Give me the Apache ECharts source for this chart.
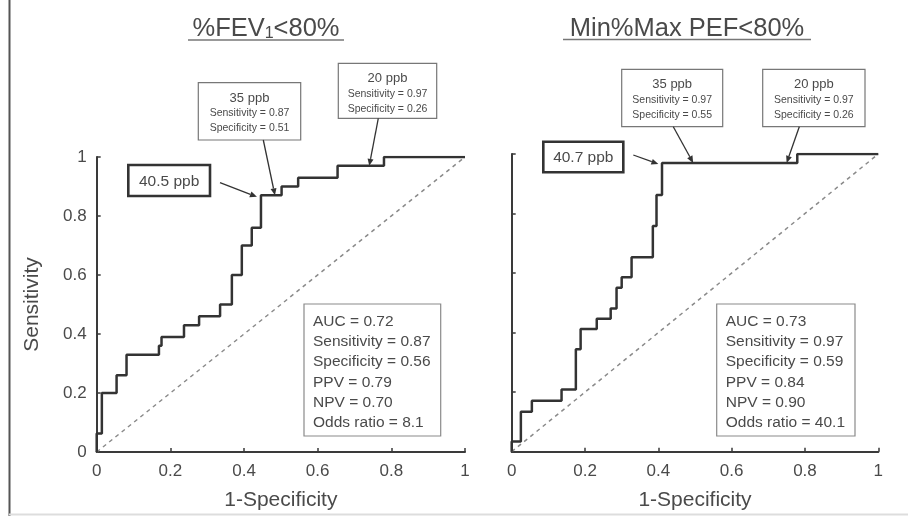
<!DOCTYPE html>
<html><head><meta charset="utf-8">
<script src="https://cdn.jsdelivr.net/npm/echarts@6/dist/echarts.min.js"></script>
<style>html,body{margin:0;padding:0;background:#fff}#c{width:908px;height:516px}</style>
</head><body><div id="c"></div>
<script>
// ---------- data ----------
const xTicks = [0, 0.2, 0.4, 0.6, 0.8, 1];
const yTicks = [0, 0.2, 0.4, 0.6, 0.8, 1];
const xAxisTitle = '1-Specificity';
const yAxisTitle = 'Sensitivity';
const diagonal = [[0, 0], [1, 1]];

// ROC corner points (1-specificity, sensitivity), steps drawn horizontally then vertically
const fev1Roc = [[0,0],[0,0.063],[0.014,0.2],[0.054,0.26],[0.081,0.33],[0.169,0.36],[0.176,0.39],
  [0.237,0.43],[0.278,0.46],[0.335,0.5],[0.367,0.6],[0.394,0.7],[0.421,0.76],[0.446,0.87],
  [0.502,0.9],[0.547,0.93],[0.654,0.97],[0.78,1],[1,1]];
const pefRoc = [[0,0],[0,0.034],[0.025,0.134],[0.055,0.171],[0.136,0.209],[0.175,0.344],[0.188,0.412],
  [0.232,0.447],[0.27,0.481],[0.286,0.551],[0.3,0.586],[0.327,0.653],[0.385,0.758],[0.395,0.862],
  [0.41,0.97],[0.779,1],[1,1]];

const statNames = ['AUC', 'Sensitivity', 'Specificity', 'PPV', 'NPV', 'Odds ratio'];
const fev1StatValues = ['0.72', '0.87', '0.56', '0.79', '0.70', '8.1'];
const pefStatValues = ['0.73', '0.97', '0.59', '0.84', '0.90', '40.1'];

const fev1Cutoffs = ['40.5 ppb', '35 ppb', '20 ppb'];
const fev1CutSens = [null, 0.87, 0.97];
const fev1CutSpec = [null, 0.51, 0.26];
const fev1CutPoints = [[0.435, 0.865], [0.484, 0.87], [0.74, 0.97]];

const pefCutoffs = ['40.7 ppb', '35 ppb', '20 ppb'];
const pefCutSens = [null, 0.97, 0.97];
const pefCutSpec = [null, 0.55, 0.26];
const pefCutPoints = [[0.4, 0.966], [0.495, 0.97], [0.75, 0.97]];

// ---------- style / layout ----------
const FONT = '"Liberation Sans", Arial, sans-serif';
const TXT = '#4a4a4a';
const AX = '#3a3a3a';

const chart = echarts.init(document.getElementById('c'), null, {renderer: 'canvas'});

function xAxis(gi) {
  return {
    type: 'value', gridIndex: gi, min: 0, max: 1, interval: 0.2,
    axisLine: {show: true, onZero: false, lineStyle: {color: AX, width: 2}},
    axisTick: {show: true, inside: true, length: 4, customValues: xTicks, lineStyle: {color: AX, width: 1.5}},
    axisLabel: {show: true, margin: 11, fontSize: 17, color: TXT, fontFamily: FONT, customValues: xTicks,
      formatter: v => String(+(+v).toFixed(2))},
    splitLine: {show: false},
    name: xAxisTitle, nameLocation: 'middle', nameGap: 38,
    nameTextStyle: {fontSize: 21, color: TXT, fontFamily: FONT}
  };
}
function yAxis(gi, withLabels) {
  return {
    type: 'value', gridIndex: gi, min: 0, max: 1, interval: 0.2,
    axisLine: {show: true, onZero: false, lineStyle: {color: AX, width: 2}},
    axisTick: {show: true, inside: true, length: 4, customValues: yTicks, lineStyle: {color: AX, width: 1.5}},
    axisLabel: {show: withLabels, margin: 10, fontSize: 17, color: TXT, fontFamily: FONT, customValues: yTicks,
      formatter: v => String(+(+v).toFixed(2))},
    splitLine: {show: false},
    name: withLabels ? yAxisTitle : '', nameLocation: 'middle', nameGap: 54,
    nameTextStyle: {fontSize: 21, color: TXT, fontFamily: FONT}
  };
}
function rocSeries(gi, data) {
  return {type: 'line', xAxisIndex: gi, yAxisIndex: gi, data: data, step: 'end', showSymbol: false,
    silent: true, animation: false, lineStyle: {color: '#333', width: 2.5}, z: 3};
}
function diagSeries(gi) {
  return {type: 'line', xAxisIndex: gi, yAxisIndex: gi, data: diagonal, showSymbol: false,
    silent: true, animation: false, lineStyle: {color: '#8a8a8a', width: 1.5, type: [4, 4]}, z: 2};
}

chart.setOption({
  animation: false,
  backgroundColor: '#fff',
  grid: [
    {left: 96.7, top: 157, width: 368.3, height: 295},
    {left: 511.7, top: 154, width: 366.6, height: 297.7}
  ],
  xAxis: [xAxis(0), xAxis(1)],
  yAxis: [yAxis(0, true), yAxis(1, false)],
  series: [diagSeries(0), rocSeries(0, fev1Roc), diagSeries(1), rocSeries(1, pefRoc)]
});

// ---------- annotations ----------
const els = [];
function text(x, y, str, size, align, extra) {
  els.push({type: 'text', silent: true, z: 10, style: Object.assign({
    x: x, y: y, text: str, font: size + 'px ' + FONT, fill: TXT,
    textAlign: align || 'center', textVerticalAlign: 'middle'}, extra || {})});
}
function rect(x, y, w, h, stroke, lw) {
  els.push({type: 'rect', silent: true, z: 9, shape: {x: x, y: y, width: w, height: h},
    style: {fill: '#fff', stroke: stroke, lineWidth: lw}});
}
function arrow(from, to) {
  const dx = to[0] - from[0], dy = to[1] - from[1];
  const L = Math.sqrt(dx * dx + dy * dy), ux = dx / L, uy = dy / L;
  const hl = 7, hw = 3;
  const bx = to[0] - ux * hl, by = to[1] - uy * hl;
  els.push({type: 'line', silent: true, z: 9, shape: {x1: from[0], y1: from[1], x2: bx, y2: by},
    style: {stroke: '#333', lineWidth: 1.3}});
  els.push({type: 'polygon', silent: true, z: 9, shape: {points: [
    [to[0], to[1]], [bx - uy * hw, by + ux * hw], [bx + uy * hw, by - ux * hw]]},
    style: {fill: '#333'}});
}

function panel(gi, cfg, cutoffs, sens, spec, pts, statValues) {
  const px = pts.map(p => chart.convertToPixel({gridIndex: gi}, p));
  // main cutoff (thick box)
  const b0 = cfg.box0;
  rect(b0[0], b0[1], b0[2], b0[3], '#333', 2.6);
  text(b0[0] + b0[2] / 2, b0[1] + b0[3] / 2 + 1, cutoffs[0], 15.5);
  arrow(cfg.arrow0, px[0]);
  // other cutoffs
  [1, 2].forEach(i => {
    const b = cfg['box' + i];
    rect(b[0], b[1], b[2], b[3], '#777', 1.2);
    const cx = b[0] + b[2] / 2;
    text(cx, b[1] + 15.5, cutoffs[i], 13);
    text(cx, b[1] + 30.5, 'Sensitivity = ' + sens[i].toFixed(2), 10.5);
    text(cx, b[1] + 45.5, 'Specificity = ' + spec[i].toFixed(2), 10.5);
    arrow(cfg['arrow' + i], px[i]);
  });
  // stats box
  const s = cfg.stats;
  rect(s[0], s[1], s[2], s[3], '#8a8a8a', 1.2);
  statNames.forEach((n, i) => text(s[0] + 9, s[1] + 17.5 + i * 20.3, n + ' = ' + statValues[i], 15.5, 'left'));
}

panel(0, {
  box0: [128.3, 165, 81.7, 31], arrow0: [220, 182.7],
  box1: [198.3, 82.7, 102.4, 57.3], arrow1: [263.3, 140],
  box2: [338.3, 63.3, 98.4, 55], arrow2: [378.3, 118.3],
  stats: [304, 304, 136.7, 132]
}, fev1Cutoffs, fev1CutSens, fev1CutSpec, fev1CutPoints, fev1StatValues);

panel(1, {
  box0: [543.3, 141.7, 80, 30.6], arrow0: [633.3, 155],
  box1: [621.7, 69.3, 101, 57.4], arrow1: [673.3, 126.7],
  box2: [762.7, 69.3, 102.3, 57.4], arrow2: [799.3, 126.7],
  stats: [716.7, 304, 138.3, 132]
}, pefCutoffs, pefCutSens, pefCutSpec, pefCutPoints, pefStatValues);

// titles (with subscript 1 in FEV1) and underlines
els.push({type: 'text', silent: true, z: 10, style: {
  x: 266, y: 28.5, text: '{a|%FEV}{b|1}{a|<80%}', textAlign: 'center', textVerticalAlign: 'middle',
  rich: {a: {fontSize: 25.5, fontFamily: FONT, fill: TXT, color: TXT},
         b: {fontSize: 16, fontFamily: FONT, fill: TXT, color: TXT, verticalAlign: 'bottom', padding: [0, 0, 0, 0]}}}});
text(687, 28.5, 'Min%Max PEF<80%', 25.5);
els.push({type: 'line', silent: true, shape: {x1: 188, y1: 40, x2: 344, y2: 40}, style: {stroke: '#777', lineWidth: 1.5}});
els.push({type: 'line', silent: true, shape: {x1: 563, y1: 39.5, x2: 811, y2: 39.5}, style: {stroke: '#777', lineWidth: 1.5}});

// outer frame line on the left and faint bottom edge
els.push({type: 'line', silent: true, shape: {x1: 9.5, y1: 0, x2: 9.5, y2: 516}, style: {stroke: '#555', lineWidth: 2}});
els.push({type: 'line', silent: true, shape: {x1: 9, y1: 514.5, x2: 908, y2: 514.5}, style: {stroke: '#ddd', lineWidth: 2}});

chart.setOption({graphic: {elements: els}});
</script>
</body></html>
